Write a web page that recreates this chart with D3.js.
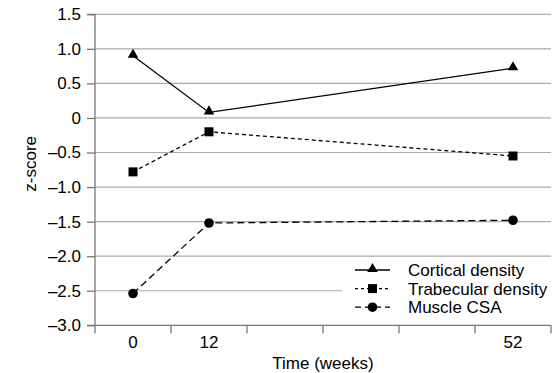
<!DOCTYPE html>
<html>
<head>
<meta charset="utf-8">
<script src="https://cdn.jsdelivr.net/npm/d3@7"></script>
<style>
  html, body { margin: 0; padding: 0; background: #fff; }
  svg { display: block; font-family: "Liberation Sans", Arial, sans-serif; }
</style>
</head>
<body>
<svg id="chart" width="554" height="373"></svg>
<script>
// ---- data ----
const categories = ["0", "12", "", "", "", "52"];
const times = ["0", "12", "52"];
const cortical = [0.90, 0.08, 0.72];
const trabecular = [-0.78, -0.20, -0.55];
const muscle = [-2.54, -1.52, -1.48];
const seriesNames = ["Cortical density", "Trabecular density", "Muscle CSA"];
const yTicks = [1.5, 1.0, 0.5, 0, -0.5, -1.0, -1.5, -2.0, -2.5, -3.0];
const yTickLabels = ["1.5", "1.0", "0.5", "0", "\u20130.5", "\u20131.0", "\u20131.5", "\u20132.0", "\u20132.5", "\u20133.0"];
const xTitle = "Time (weeks)";
const yTitle = "z-score";

const series = [
  { name: seriesNames[0], values: cortical, dash: null, marker: "triangle" },
  { name: seriesNames[1], values: trabecular, dash: "4,3", marker: "square" },
  { name: seriesNames[2], values: muscle, dash: "7,4", marker: "circle" }
];

const svg = d3.select("#chart");
const pLeft = 95, pRight = 551, pTop = 14.3, pBottom = 325.3;
const fs = 17;

const x = d3.scaleBand().domain(d3.range(categories.length)).range([pLeft, pRight]).paddingInner(0).paddingOuter(0);
const y = d3.scaleLinear().domain([-3, 1.5]).range([pBottom, pTop]);
const xc = t => x(categories.indexOf(t)) + x.bandwidth() / 2;

// gridlines
svg.append("g").selectAll("line").data(yTicks.filter(v => v !== -3)).join("line")
  .attr("x1", pLeft).attr("x2", pRight)
  .attr("y1", d => y(d)).attr("y2", d => y(d))
  .attr("stroke", "#aaaaaa").attr("stroke-width", 1.2);

// y axis
const yAxis = d3.axisLeft(y).tickValues(yTicks)
  .tickFormat((d, i) => yTickLabels[i]).tickSize(8).tickPadding(6);
const gy = svg.append("g").attr("transform", `translate(${pLeft},0)`).call(yAxis);
gy.select(".domain").attr("stroke", "#777").attr("stroke-width", 1.3).attr("d", `M-8,${pBottom}H0V${pTop}H-8`);
gy.selectAll(".tick line").attr("stroke", "#777").attr("stroke-width", 1.3);
gy.selectAll(".tick text").attr("font-size", fs).attr("fill", "#000").attr("font-family", "Liberation Sans, Arial, sans-serif");

// x axis
const xAxis = d3.axisBottom(x).tickFormat(i => categories[i]).tickSize(0).tickPadding(11);
const gx = svg.append("g").attr("transform", `translate(0,${pBottom})`).call(xAxis);
gx.select(".domain").attr("stroke", "#777").attr("stroke-width", 1.3).attr("d", `M${pLeft},0H${pRight}`);
gx.selectAll(".tick text").attr("font-size", fs).attr("fill", "#000").attr("font-family", "Liberation Sans, Arial, sans-serif");
// boundary tick marks
const bounds = d3.range(categories.length + 1).map(i => pLeft + i * x.bandwidth());
gx.append("g").selectAll("line").data(bounds).join("line")
  .attr("x1", d => d).attr("x2", d => d).attr("y1", 0).attr("y2", 8)
  .attr("stroke", "#777").attr("stroke-width", 1.3);

// titles
svg.append("text").attr("x", (pLeft + pRight) / 2).attr("y", 369)
  .attr("text-anchor", "middle").attr("font-size", fs).text(xTitle);
svg.append("text").attr("transform", `translate(36,${(pTop + pBottom) / 2 - 6}) rotate(-90)`)
  .attr("text-anchor", "middle").attr("font-size", fs).text(yTitle);

// markers
function drawMarker(g, type, cx, cy) {
  if (type === "triangle") {
    g.append("path").attr("d", d3.symbol().type(d3.symbolTriangle).size(48)())
      .attr("transform", `translate(${cx},${cy - 1})`).attr("fill", "#000");
  } else if (type === "square") {
    g.append("rect").attr("x", cx - 4.5).attr("y", cy - 4.5).attr("width", 9).attr("height", 9).attr("fill", "#000");
  } else {
    g.append("circle").attr("cx", cx).attr("cy", cy).attr("r", 4.8).attr("fill", "#000");
  }
}

const line = d3.line().x((d, i) => xc(times[i])).y(d => y(d));
const gs = svg.append("g");
series.forEach(s => {
  gs.append("path").datum(s.values).attr("d", line)
    .attr("fill", "none").attr("stroke", "#000").attr("stroke-width", 1.3)
    .attr("stroke-dasharray", s.dash);
  s.values.forEach((v, i) => drawMarker(gs, s.marker, xc(times[i]), y(v)));
});

// legend
const lg = svg.append("g");
lg.append("rect").attr("x", 342).attr("y", 259).attr("width", 212).attr("height", 60).attr("fill", "#fff");
series.forEach((s, i) => {
  const ly = 270 + i * 18.6;
  lg.append("line").attr("x1", 355).attr("x2", 390).attr("y1", ly).attr("y2", ly)
    .attr("stroke", "#000").attr("stroke-width", 1.3)
    .attr("stroke-dasharray", s.dash ? (i === 1 ? "3,3" : "6,4") : null);
  drawMarker(lg, s.marker, 372.5, ly);
  lg.append("text").attr("x", 408).attr("y", ly).attr("dy", "0.35em")
    .attr("font-size", fs).text(s.name);
});
</script>
</body>
</html>
